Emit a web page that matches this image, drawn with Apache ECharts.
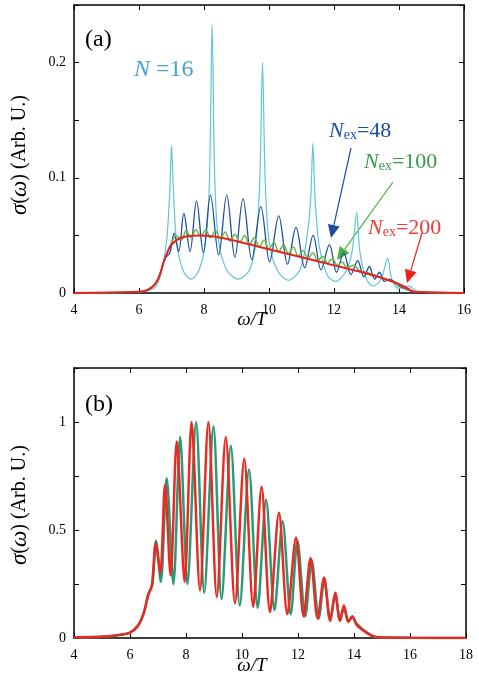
<!DOCTYPE html><html><head><meta charset="utf-8"><script src="https://cdn.jsdelivr.net/npm/echarts@6/dist/echarts.min.js"></script>
<style>html,body{margin:0;background:#fff}#c{width:479px;height:688px}</style></head><body><div id="c"></div><script>
const xTicksA=[4,6,8,10,12,14,16];
const yTicksA=[0,0.1,0.2];
const xTicksB=[4,6,8,10,12,14,16,18];
const yTicksB=[0,0.5,1];
const cyanN16=[[4,0],[6,0.001],[6.5,0.005],[6.7,0.02],[6.85,0.045],[6.95,0.09],[7.0,0.128],[7.06,0.09],[7.15,0.045],[7.35,0.02],[7.6,0.012],[7.85,0.02],[8.05,0.045],[8.17,0.1],[8.25,0.233],[8.33,0.1],[8.45,0.045],[8.7,0.02],[9.05,0.012],[9.4,0.02],[9.6,0.045],[9.72,0.1],[9.8,0.2],[9.88,0.1],[10.0,0.045],[10.25,0.02],[10.6,0.011],[10.95,0.02],[11.15,0.045],[11.28,0.08],[11.35,0.13],[11.42,0.08],[11.55,0.04],[11.8,0.015],[12.05,0.01],[12.35,0.018],[12.55,0.035],[12.7,0.07],[12.8,0.035],[13.0,0.012],[13.2,0.006],[13.45,0.012],[13.65,0.03],[13.78,0.012],[14.0,0.004],[14.3,0.006],[14.6,0.001],[16,0]];
const blueN48=[[4,0],[6,0.001],[6.5,0.008],[6.8,0.03],[6.95,0.035],[7.08,0.052],[7.22,0.036],[7.38,0.069],[7.57,0.036],[7.77,0.08],[7.98,0.035],[8.2,0.085],[8.45,0.033],[8.7,0.085],[8.95,0.031],[9.2,0.082],[9.47,0.029],[9.75,0.075],[10.02,0.027],[10.3,0.067],[10.57,0.025],[10.83,0.057],[11.1,0.022],[11.36,0.05],[11.6,0.02],[11.86,0.042],[12.08,0.018],[12.3,0.035],[12.52,0.016],[12.73,0.028],[12.92,0.014],[13.09,0.023],[13.25,0.012],[13.4,0.018],[13.55,0.01],[13.7,0.012],[14.0,0.006],[14.5,0.001],[16,0]];
const greenN100=[[4,0],[6,0.001],[6.5,0.008],[6.8,0.03],[7.0,0.044],[7.15,0.05],[7.3,0.046],[7.45,0.054],[7.6,0.048],[7.75,0.055],[7.9,0.049],[8.05,0.055],[8.2,0.048],[8.35,0.054],[8.5,0.047],[8.65,0.053],[8.8,0.045],[8.95,0.051],[9.1,0.044],[9.25,0.05],[9.4,0.042],[9.55,0.048],[9.7,0.04],[9.85,0.046],[10.0,0.038],[10.15,0.044],[10.3,0.036],[10.45,0.042],[10.6,0.034],[10.75,0.04],[10.9,0.032],[11.05,0.037],[11.2,0.03],[11.35,0.035],[11.5,0.028],[11.65,0.032],[11.8,0.026],[11.95,0.03],[12.1,0.024],[12.25,0.027],[12.4,0.022],[12.6,0.024],[12.8,0.019],[13.0,0.018],[13.5,0.013],[14,0.007],[14.5,0.001],[16,0]];
const redN200=[[4,0],[6,0.001],[6.5,0.008],[6.8,0.03],[7.0,0.042],[7.3,0.048],[7.8,0.05],[8.3,0.049],[9,0.045],[10,0.038],[11,0.031],[12,0.024],[13,0.017],[13.8,0.01],[14.2,0.005],[14.5,0.001],[16,0]];
const tealB=[[4,0.003],[5,0.006],[5.5,0.012],[6.0,0.025],[6.3,0.06],[6.5,0.12],[6.65,0.2],[6.8,0.25],[6.93,0.45],[7.1,0.26],[7.31,0.74],[7.55,0.25],[7.79,0.93],[8.05,0.25],[8.36,1.0],[8.65,0.21],[8.98,0.98],[9.27,0.18],[9.6,0.89],[9.92,0.15],[10.25,0.78],[10.56,0.14],[10.86,0.64],[11.16,0.13],[11.45,0.54],[11.74,0.11],[11.98,0.45],[12.26,0.1],[12.49,0.36],[12.74,0.09],[12.94,0.27],[13.15,0.08],[13.33,0.2],[13.5,0.08],[13.64,0.14],[13.8,0.075],[13.94,0.1],[14.1,0.065],[14.5,0.022],[14.85,0.003],[16,0.001],[18,0]];
const redB=[[4,0.003],[5,0.006],[5.5,0.012],[6.0,0.025],[6.3,0.06],[6.5,0.12],[6.65,0.2],[6.78,0.24],[6.92,0.44],[7.08,0.3],[7.25,0.71],[7.45,0.29],[7.67,0.91],[7.95,0.26],[8.2,1.0],[8.5,0.22],[8.8,1.0],[9.1,0.19],[9.42,0.93],[9.75,0.16],[10.08,0.83],[10.4,0.145],[10.7,0.7],[11.0,0.12],[11.32,0.58],[11.62,0.11],[11.93,0.465],[12.2,0.1],[12.45,0.37],[12.7,0.09],[12.93,0.28],[13.15,0.08],[13.33,0.21],[13.5,0.08],[13.64,0.15],[13.8,0.075],[13.94,0.1],[14.1,0.06],[14.5,0.02],[14.8,0.003],[16,0.001],[18,0]];

const serif='Liberation Serif';
function xa(gi,mn,mx,ticks,show,pos){return {type:'value',gridIndex:gi,min:mn,max:mx,interval:2,position:pos,
 axisLine:{show:true,onZero:false,lineStyle:{color:'#000',width:1.5}},axisTick:{show:true,inside:true,length:5,lineStyle:{color:'#000'}},
 axisLabel:{show:show,color:'#000',fontFamily:serif,fontSize:14,margin:10,formatter:v=>ticks.includes(v)?String(v):''},splitLine:{show:false}};}
function ya(gi,mx,iv,ticks,show,pos){return {type:'value',gridIndex:gi,min:0,max:mx,interval:iv,position:pos,
 axisLine:{show:true,onZero:false,lineStyle:{color:'#000',width:1.5}},axisTick:{show:true,inside:true,length:5,lineStyle:{color:'#000'}},
 axisLabel:{show:show,color:'#000',fontFamily:serif,fontSize:14,margin:8,formatter:v=>ticks.some(t=>Math.abs(t-v)<1e-9)?String(Math.round(v*10)/10):''},splitLine:{show:false}};}
function ln(data,color,w,xi,yi,sm){return {type:'line',data:data,xAxisIndex:xi,yAxisIndex:yi,showSymbol:false,smooth:sm,lineStyle:{color:color,width:w},animation:false};}
const chart=echarts.init(document.getElementById('c'));
const nex=(c,v)=>({type:'text',style:{text:'{n|N}{s|ex}{v|='+v+'}',rich:{n:{fontFamily:serif,fontStyle:'italic',fontSize:22,fill:c,color:c},s:{fontFamily:serif,fontSize:14,fill:c,color:c,padding:[8,0,0,0]},v:{fontFamily:serif,fontSize:22,fill:c,color:c}}}});
function arrow(x1,y1,x2,y2,c){const a=Math.atan2(y2-y1,x2-x1),L=13,W=6;
 const bx=x2-L*Math.cos(a),by=y2-L*Math.sin(a);
 return [{type:'line',shape:{x1:x1,y1:y1,x2:bx,y2:by},style:{stroke:c,lineWidth:1.2}},
 {type:'polygon',shape:{points:[[x2,y2],[bx+W*Math.sin(a),by-W*Math.cos(a)],[bx-W*Math.sin(a),by+W*Math.cos(a)]]},style:{fill:c}}];}
const ylabel=(y)=>({type:'text',x:20,y:y,rotation:Math.PI/2,style:{text:'{i|σ}{r|(}{i|ω}{r|) (Arb. U.)}',rich:{i:{fontFamily:serif,fontStyle:'italic',fontSize:23},r:{fontFamily:serif,fontSize:20}},align:'center',verticalAlign:'middle'}});
chart.setOption({animation:false,
 grid:[{left:74,top:5,width:390,height:288},{left:74,top:368,width:392,height:270}],
 xAxis:[xa(0,4,16,xTicksA,true,'bottom'),xa(0,4,16,xTicksA,false,'top'),xa(1,4,18,xTicksB,true,'bottom'),xa(1,4,18,xTicksB,false,'top')],
 yAxis:[ya(0,0.25,0.05,yTicksA,true,'left'),ya(0,0.25,0.05,yTicksA,false,'right'),ya(1,1.25,0.25,yTicksB,true,'left'),ya(1,1.25,0.25,yTicksB,false,'right')],
 series:[ln(cyanN16,'#5ec6d6',1.2,0,0,0.3),ln(blueN48,'#1c4fa3',1.3,0,0,0.35),ln(greenN100,'#6cb744',1.5,0,0,0.35),ln(redN200,'#e8231f',2,0,0,0.4),
  ln(tealB,'#2a9a76',2.5,2,2,0.3),ln(redB,'#ea2a22',2.5,2,2,0.3)],
 graphic:[
  {type:'text',x:85,y:28,style:{text:'(a)',fontFamily:serif,fontSize:24,fill:'#000'}},
  {type:'text',x:85,y:393,style:{text:'(b)',fontFamily:serif,fontSize:24,fill:'#000'}},
  {type:'text',x:134,y:58,style:{text:'{n|N}{v| =16}',rich:{n:{fontFamily:serif,fontStyle:'italic',fontSize:24,fill:'#4aa3d8',color:'#4aa3d8'},v:{fontFamily:serif,fontSize:24,fill:'#4aa3d8',color:'#4aa3d8'}}}},
  Object.assign(nex('#1c4fa3','48'),{x:329,y:120}),
  Object.assign(nex('#3a9a4a','100'),{x:364,y:151}),
  Object.assign(nex('#ef3a35','200'),{x:368,y:217}),
  ...arrow(351,148,331,238,'#1c4fa3'),...arrow(393,182,337,260,'#4ab040'),...arrow(422,233,407,283,'#e8231f'),
  ylabel(155),ylabel(505),
  {type:'text',x:252,y:310,style:{text:'ω/T',fontFamily:serif,fontStyle:'italic',fontSize:19,align:'center',fill:'#000'}},
  {type:'text',x:252,y:656,style:{text:'ω/T',fontFamily:serif,fontStyle:'italic',fontSize:19,align:'center',fill:'#000'}}
 ]});
</script></body></html>
